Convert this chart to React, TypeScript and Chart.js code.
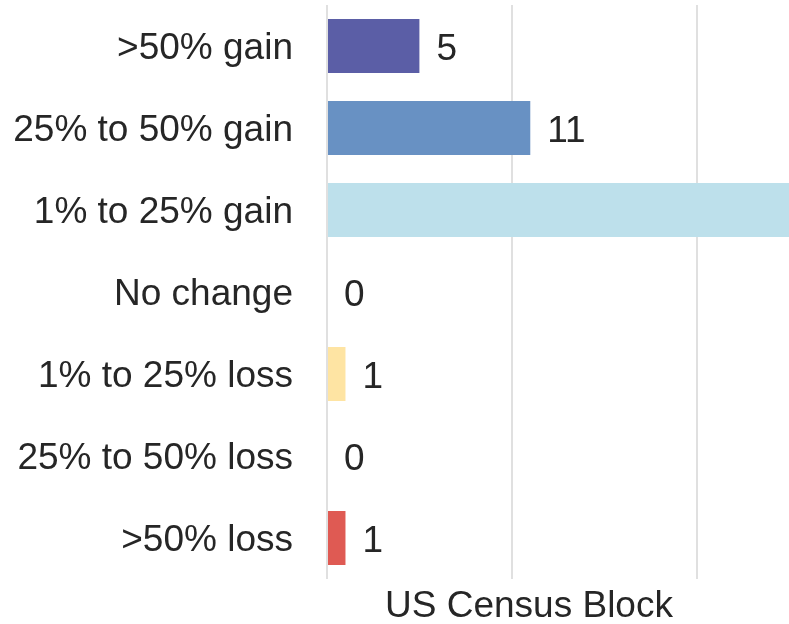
import React, { useEffect, useRef } from "react";
import { Chart, registerables } from "chart.js";

Chart.register(...registerables);

const categories = [
  ">50% gain",
  "25% to 50% gain",
  "1% to 25% gain",
  "No change",
  "1% to 25% loss",
  "25% to 50% loss",
  ">50% loss",
];
const values = [5, 11, 26, 0, 1, 0, 1];
const barColors = ["#5b5ea6", "#6891c3", "#bde0eb", "#fdf6c7", "#fee4a3", "#f3a06a", "#df5a53"];
const gridTicks = [0, 10, 20];
const xTitle = "US Census Block";

const FONT = "'Liberation Sans', Arial, sans-serif";
const TEXT = "#262626";

export default function App() {
  const ref = useRef<HTMLCanvasElement | null>(null);

  useEffect(() => {
    if (!ref.current) return;
    const labelPlugin = {
      id: "valueLabels",
      afterDatasetsDraw(chart: any) {
        const ctx = chart.ctx;
        const meta = chart.getDatasetMeta(0);
        ctx.save();
        ctx.font = `37px ${FONT}`;
        ctx.fillStyle = TEXT;
        ctx.textAlign = "left";
        ctx.textBaseline = "middle";
        meta.data.forEach((bar: any, i: number) => {
          ctx.fillText(String(values[i]), bar.x + 17, bar.y + 4);
        });
        ctx.restore();
      },
      afterDraw(chart: any) {
        const ctx = chart.ctx;
        ctx.save();
        ctx.font = `37px ${FONT}`;
        ctx.fillStyle = TEXT;
        ctx.textAlign = "center";
        ctx.textBaseline = "alphabetic";
        ctx.fillText(xTitle, 529, 617);
        ctx.restore();
      },
    };
    const chart = new Chart(ref.current, {
      type: "bar",
      data: {
        labels: categories,
        datasets: [
          {
            data: values,
            backgroundColor: barColors,
            categoryPercentage: 1,
            barPercentage: 0.66,
            borderWidth: 0,
          },
        ],
      },
      options: {
        indexAxis: "y",
        animation: false,
        responsive: false,
        maintainAspectRatio: false,
        layout: { padding: { top: 5, right: 0, left: 0, bottom: 0 } },
        plugins: { legend: { display: false }, tooltip: { enabled: false } },
        scales: {
          x: {
            min: 0,
            max: 25,
            ticks: { display: false, stepSize: 10 },
            grid: {
              drawTicks: false,
              lineWidth: 2,
              color: (c: any) =>
                c.tick && gridTicks.includes(c.tick.value) ? "#e0e0e0" : "rgba(0,0,0,0)",
            },
            border: { display: false },
            afterFit(scale: any) {
              scale.height = 45;
              scale.paddingLeft = 0;
              scale.paddingRight = 0;
            },
          },
          y: {
            ticks: {
              color: TEXT,
              font: { family: FONT, size: 37 },
              padding: 34,
              labelOffset: 3,
            },
            grid: { display: false, drawTicks: false },
            border: { display: false },
            afterFit(scale: any) {
              scale.width = 327;
              scale.paddingTop = 0;
              scale.paddingBottom = 0;
            },
          },
        },
      },
      plugins: [labelPlugin],
    });
    return () => chart.destroy();
  }, []);

  return (
    <div style={{ position: "fixed", left: 0, top: 0, width: 789, height: 624, background: "#fff" }}>
      <canvas ref={ref} width={789} height={624} style={{ display: "block" }} />
    </div>
  );
}
